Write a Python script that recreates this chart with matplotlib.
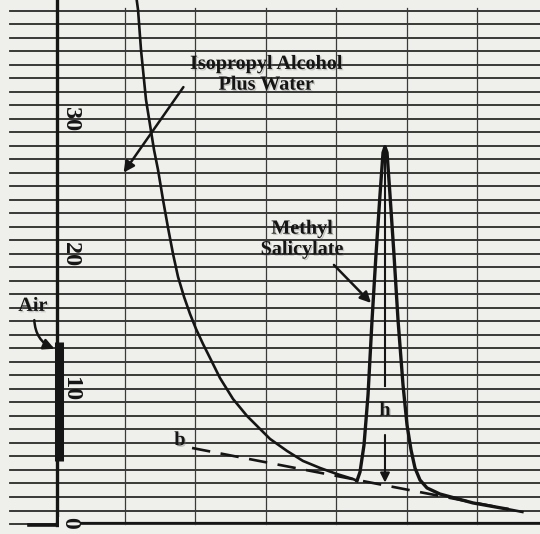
import matplotlib.pyplot as plt
import matplotlib.patheffects as pe
import numpy as np

# chart-paper units: x = chart divisions, y = response (small divisions)
solvent_x = [1.156, 1.185, 1.227, 1.298, 1.412, 1.469, 1.540, 1.611, 1.682, 1.753,
             1.839, 1.923, 2.009, 2.108, 2.207, 2.349, 2.534, 2.733, 3.060, 3.301,
             3.528, 3.770, 4.011, 4.239, 4.295]
solvent_y = [39.19, 38.07, 35.11, 31.41, 27.70, 26.22, 24.00, 21.93, 20.00, 18.30,
             16.81, 15.56, 14.44, 13.33, 12.30, 10.81, 9.26, 8.00, 6.30, 5.41,
             4.67, 4.15, 3.70, 3.33, 3.20]

peak_x = [4.295, 4.338, 4.395, 4.452, 4.509, 4.565, 4.622, 4.665, 4.693, 4.722,
          4.764, 4.821, 4.878, 4.949, 5.006, 5.063, 5.119, 5.190, 5.290, 5.474,
          5.943, 6.426]
peak_y = [3.20, 3.85, 5.85, 9.56, 15.11, 19.93, 24.37, 27.50, 27.93, 27.50,
          24.37, 19.93, 15.11, 10.30, 7.33, 5.48, 4.15, 3.26, 2.67, 2.22,
          1.56, 1.11]

baseline_x = [1.952, 6.796]
baseline_y = [5.63, 0.74]

air_x = 0.06
air_low, air_high = 4.7, 13.5

scale_ticks = [10, 20, 30]
grid_rows = np.arange(0, 39)
grid_cols = [1, 2, 3, 4, 5, 6]

ink = "#151515"
paper = "#efefeb"

fig = plt.figure(figsize=(5.4, 5.34), dpi=100)
fig.patch.set_facecolor("#f7f7f5")
ax = fig.add_axes([0, 0, 1, 1])
ax.set_xlim(-0.776, 6.895)
ax.set_ylim(-0.74, 38.8)
ax.set_facecolor(paper)
ax.axis("off")
ax.add_patch(plt.Rectangle((-0.776, -0.74), 7.7, 39.6, color=paper, zorder=0))

# chart paper grid
for r in grid_rows:
    ax.plot([-0.63, 6.895], [r, r], color="#2a2a2a", lw=1.3, zorder=1)
for c in grid_cols:
    ax.plot([c, c], [0, 38.2], color="#3a3a3a", lw=0.9, zorder=1)

# pen axis and zero line
ax.plot([0.03, 0.03], [-0.05, 38.8], color=ink, lw=2.4, zorder=3)
ax.plot([-0.36, 0.03], [-0.1, -0.1], color=ink, lw=2.6, zorder=3)
ax.plot([0.03, 6.895], [0.05, 0.05], color=ink, lw=1.6, zorder=3)

# air peak drawn over the axis
ax.plot([air_x, air_x], [air_low, air_high], color=ink, lw=6.5,
        solid_capstyle="butt", zorder=4)

# scale numbers on the chart
for t in scale_ticks:
    ax.text(0.23, t, str(t), rotation=-90, ha="center", va="center",
            fontsize=17.5, family="Liberation Serif", weight="bold", color=ink, zorder=5)
ax.text(0.21, 0.05, "0", rotation=-90, ha="center", va="center",
        fontsize=17, family="Liberation Serif", weight="bold", color=ink, zorder=5,
        bbox=dict(boxstyle="square,pad=0.0", fc=paper, ec="none"))

# baseline, solvent tail, methyl salicylate peak
ax.plot(baseline_x, baseline_y, color=ink, lw=1.9, dashes=(7, 4), zorder=4)
ax.plot(solvent_x, solvent_y, color=ink, lw=1.9, zorder=5,
        solid_joinstyle="round")
ax.plot(peak_x, peak_y, color=ink, lw=2.4, zorder=5, solid_joinstyle="round")

# peak height h
i_top = int(np.argmax(peak_y))
xh, yh = peak_x[i_top], peak_y[i_top]
slope = (baseline_y[1] - baseline_y[0]) / (baseline_x[1] - baseline_x[0])
yb = baseline_y[0] + slope * (xh - baseline_x[0])
ax.plot([xh, xh], [yh, 10.2], color=ink, lw=1.5, zorder=5)
ax.annotate("", xy=(xh, yb), xytext=(xh, 6.8),
            arrowprops=dict(arrowstyle="-|>", color=ink, lw=1.5, mutation_scale=14), zorder=5)

shadow = [pe.SimplePatchShadow(offset=(1, -1), shadow_rgbFace="0.45", alpha=0.35),
          pe.Normal()]
lab = dict(family="Liberation Serif", weight="bold", color=ink, ha="center",
           va="center", zorder=6, path_effects=shadow)

ax.text(3.005, 33.3, "Isopropyl Alcohol\nPlus Water", fontsize=14.5,
        linespacing=1.05, **lab)
ax.text(3.515, 21.1, "Methyl\nSalicylate", fontsize=14.5, linespacing=1.05, **lab)
ax.text(-0.31, 16.15, "Air", fontsize=14.5, **lab)
ax.text(1.78, 6.2, "b", fontsize=14.5, **lab)
ax.text(xh, 8.4, "h", fontsize=14.5, **lab)

arrow = dict(arrowstyle="-|>", color=ink, lw=1.8, mutation_scale=16)
ax.annotate("", xy=(0.957, 25.85), xytext=(1.852, 32.52), arrowprops=arrow, zorder=6)
ax.annotate("", xy=(4.522, 16.22), xytext=(3.94, 19.33), arrowprops=arrow, zorder=6)
ax.annotate("", xy=(0.034, 12.9), xytext=(-0.29, 15.3),
            arrowprops=dict(arrow, connectionstyle="arc3,rad=0.35"), zorder=6)

fig.savefig("out.png", dpi=100, facecolor=fig.get_facecolor())
